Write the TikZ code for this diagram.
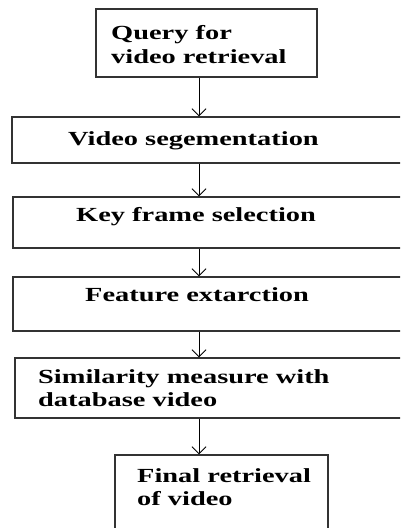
\documentclass[tikz,border=0pt]{standalone}
\usepackage{fontspec}
\setmainfont{Liberation Serif}[FakeStretch=1.42]
\usetikzlibrary{arrows.meta}
\begin{document}
\begin{tikzpicture}[x=1pt,y=-1pt,
  box/.style={draw=black!80, line width=1.3pt, inner sep=0pt},
  lbl/.style={anchor=base west, inner sep=0pt, font=\fontsize{20}{23}\selectfont\bfseries},
  arr/.style={draw=black, line width=0.9pt, -{Straight Barb[length=7pt,width=14pt,line width=0.9pt]}}]
\useasboundingbox (0,0) rectangle (400,528);
\clip (0,0) rectangle (400,528);
\fill[white] (0,0) rectangle (400,528);
\coordinate (ax) at (199,0);
\node[box, minimum width=221pt, minimum height=68pt] (b1) at (206.5,43) {};
\node[box, minimum width=408pt, minimum height=46pt] (b2) at (216,140) {};
\node[box, minimum width=407pt, minimum height=51pt] (b3) at (216.5,222.5) {};
\node[box, minimum width=407pt, minimum height=54pt] (b4) at (216.5,304) {};
\node[box, minimum width=405pt, minimum height=60pt] (b5) at (217.5,388) {};
\node[box, minimum width=213pt, minimum height=85pt] (b6) at (221.5,497.5) {};
\node[lbl] (t1a) at (111,39) {Query for};
\node[lbl] (t1b) at (111,63) {video retrieval};
\node[lbl] (t2) at (68,145) {Video segementation};
\node[lbl] (t3) at (76,221) {Key frame selection};
\node[lbl] (t4) at (85,301) {Feature extarction};
\node[lbl] (t5a) at (38,383) {Similarity measure with};
\node[lbl] (t5b) at (38,406) {database video};
\node[lbl] (t6a) at (137,482) {Final retrieval};
\node[lbl] (t6b) at (137,505) {of video};
\draw[arr] (b1.south -| ax) -- (b2.north -| ax);
\draw[arr] (b2.south -| ax) -- (b3.north -| ax);
\draw[arr] (b3.south -| ax) -- (b4.north -| ax);
\draw[arr] (b4.south -| ax) -- (b5.north -| ax);
\draw[arr] (b5.south -| ax) -- (b6.north -| ax);
\end{tikzpicture}
\end{document}
